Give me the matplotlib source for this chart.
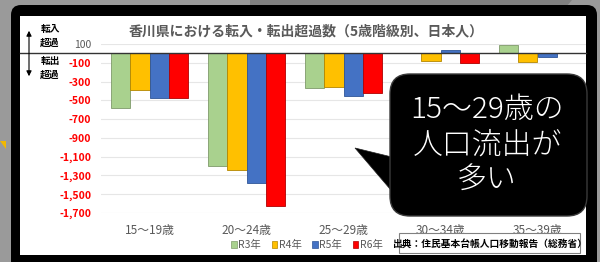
import numpy as np
import matplotlib
matplotlib.use("Agg")
from matplotlib import pyplot as plt
from matplotlib import transforms
from matplotlib.patches import FancyBboxPatch, Rectangle, Polygon, Patch

plt.rcParams["font.family"] = ["Noto Sans CJK JP", "DejaVu Sans"]

categories = ["15～19歳", "20～24歳", "25～29歳", "30～34歳", "35～39歳"]
series = ["R3年", "R4年", "R5年", "R6年"]
r3 = [-585, -1200, -372, 8, 86]
r4 = [-390, -1242, -355, -84, -95]
r5 = [-470, -1377, -450, 39, -35]
r6 = [-470, -1628, -425, -99, 0]
yticks = [100, -100, -300, -500, -700, -900, -1100, -1300, -1500, -1700]

colors = ["#A9D18E", "#FFC000", "#4472C4", "#FF0000"]
edges = ["#7f9a6a", "#b38600", "#2f5597", "#b00000"]

W, H = 600, 262
fig = plt.figure(figsize=(W / 100, H / 100), dpi=100)
fig.patch.set_facecolor("#9a9a9a")
# pixel coords, y measured from the top
px = transforms.Affine2D().scale(0.01, -0.01).translate(0, H / 100) + fig.dpi_scale_trans

# background slide frame
fig.add_artist(Polygon([(250, 0), (572, 0), (566, 7), (250, 7)], closed=True,
                       transform=px, facecolor="#808080", edgecolor="none", zorder=-9))
fig.add_artist(Polygon([(0, 141), (6, 141), (6, 149)], closed=True,
                       transform=px, facecolor="#f2b800", edgecolor="none", zorder=-9))
fig.add_artist(FancyBboxPatch((11, 5), 586, 270, boxstyle="round,pad=0,rounding_size=10",
                              transform=px, facecolor="black", edgecolor="none", zorder=-8))
fig.add_artist(Rectangle((20, 16), 566, 239, transform=px,
                         facecolor="white", edgecolor="none", zorder=-7))

# chart area
ax = fig.add_axes([101 / W, 1 - 213 / H, 485 / W, 169 / H])
ax.set_facecolor("none")
x = np.arange(len(categories))
w = 0.2
for i, vals in enumerate([r3, r4, r5, r6]):
    ax.bar(x + (i - 1.5) * w, vals, w, color=colors[i], edgecolor=edges[i],
           linewidth=0.6, label=series[i], zorder=3)

ax.set_xlim(-0.5, len(categories) - 0.5)
ax.set_ylim(-1700, 100)
ax.set_yticks(yticks)
ax.set_yticklabels([f"{v:,}" for v in yticks], fontsize=7.5, fontweight="bold")
for lab, v in zip(ax.get_yticklabels(), yticks):
    if v < 0:
        lab.set_color("#ff0000")
    else:
        lab.set_color("#595959")
        lab.set_fontweight("normal")
ax.set_xticks(x)
ax.set_xticklabels(categories, fontsize=8.5, color="#595959")
ax.tick_params(length=0)
ax.tick_params(axis="x", pad=8)
ax.tick_params(axis="y", pad=7)
ax.grid(axis="y", color="#e6e6e6", linewidth=0.8, zorder=0)
for s in ax.spines.values():
    s.set_visible(False)

# zero line running into the label area
bt = transforms.blended_transform_factory(ax.transAxes, ax.transData)
ax.plot([(20 - 101) / 485, 1], [0, 0], color="#333333", linewidth=1.0,
        transform=bt, clip_on=False, zorder=4)

# in/out arrow
fig.add_artist(matplotlib.patches.FancyArrowPatch((29, 28), (29, 79), transform=px,
               arrowstyle="<|-|>,head_length=3,head_width=1.5", color="black",
               linewidth=0.8, zorder=2))
fig.text(50 / W, 1 - 36 / H, "転入\n超過", fontsize=7, fontweight="bold",
         ha="center", va="center", linespacing=1.5)
fig.text(50 / W, 1 - 68 / H, "転出\n超過", fontsize=7, fontweight="bold",
         ha="center", va="center", linespacing=1.5)

fig.text(306 / W, 1 - 31 / H, "香川県における転入・転出超過数（5歳階級別、日本人）",
         fontsize=10, fontweight="bold", color="#595959", ha="center", va="center")

# legend
handles = [Patch(facecolor=c, edgecolor=e, linewidth=0.5) for c, e in zip(colors, edges)]
fig.legend(handles, series, ncol=4, loc="center", bbox_to_anchor=(307 / W, 1 - 245 / H),
           frameon=False, fontsize=7.5, handlelength=0.55, handleheight=0.55,
           handletextpad=0.15, columnspacing=1.0, labelcolor="#595959")

# source box
fig.add_artist(Rectangle((399, 233), 181, 20, transform=px, facecolor="white",
                         edgecolor="#808080", linewidth=0.8, zorder=2))
fig.text(490 / W, 1 - 243.5 / H, "出典：住民基本台帳人口移動報告（総務省）",
         fontsize=7, fontweight="bold", ha="center", va="center", zorder=3)

# speech bubble
fig.add_artist(Polygon([(355, 148), (396, 158), (396, 196)], closed=True, transform=px,
                       facecolor="black", edgecolor="#222222", linewidth=0.5, zorder=5))
fig.add_artist(FancyBboxPatch((390, 74), 197, 142, boxstyle="round,pad=0,rounding_size=20",
                              transform=px, facecolor="black", edgecolor="#3a3a3a",
                              linewidth=1.0, zorder=6))
fig.text(487 / W, 1 - 145 / H, "15～29歳の\n人口流出が\n多い", fontsize=21.5,
         fontweight="light", color="white", ha="center", va="center",
         linespacing=1.2, zorder=7)

fig.savefig("out.png", dpi=100)
